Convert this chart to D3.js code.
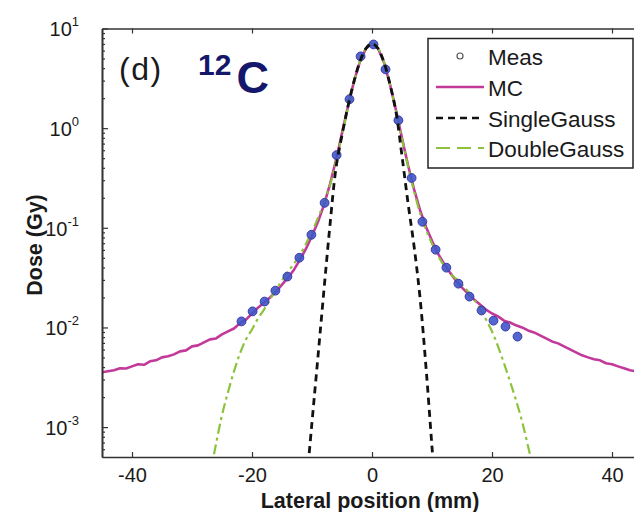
<!DOCTYPE html>
<html>
<head>
<meta charset="utf-8">
<script src="https://cdn.jsdelivr.net/npm/d3@7"></script>
<style>
  html, body { margin: 0; padding: 0; background: #ffffff; }
  svg { display: block; }
  text { font-family: "Liberation Sans", Arial, Helvetica, sans-serif; }
</style>
</head>
<body>
<svg id="chart" width="634" height="512"></svg>
<script>
// ---------------- data ----------------
const xTicks = [-40, -20, 0, 20, 40];
const yTickExps = [1, 0, -1, -2, -3];

// Monte Carlo profile, lateral positions -45..45 mm (1 mm step)
const mcPos = d3.range(-45, 46, 1);
const mcDose = [
  0.00355,0.00363,0.00372,0.00389,0.00387,0.00407,0.00427,0.00422,0.00457,0.00468,
  0.00501,0.00513,0.00537,0.00575,0.00589,0.00646,0.00661,0.00708,0.00759,0.00776,
  0.00851,0.00912,0.00977,0.0110,0.0120,0.0138,0.0158,0.0178,0.0200,0.0229,
  0.0269,0.0316,0.0380,0.0479,0.0617,0.0832,0.115,0.170,0.275,0.479,
  0.891,1.66,2.95,4.68,6.31,7.08,6.31,4.57,2.75,1.51,
  0.794,0.427,0.245,0.151,0.102,0.0741,0.0550,0.0437,0.0355,0.0295,
  0.0251,0.0219,0.0191,0.0170,0.0151,0.0138,0.0129,0.0117,0.0112,0.0105,
  0.0100,0.00933,0.00891,0.00832,0.00776,0.00724,0.00692,0.00646,0.00603,0.00562,
  0.00525,0.00501,0.00479,0.00468,0.00437,0.00427,0.00407,0.00389,0.00372,0.00363,
  0.00347
];

// Single Gaussian fit, -11..11 mm
const sgPos = d3.range(-11, 12, 1);
const sgDose = [0.000240,0.00112,0.00513,0.0240,0.107,0.398,0.851,1.66,2.95,4.68,6.31,7.08,
                6.31,4.57,2.75,1.45,0.525,0.178,0.0661,0.0200,0.00398,0.000631,0.0001];

// Double Gaussian fit, -27..27 mm
const dgPos = d3.range(-27, 28, 1);
const dgDose = [
  0.000331,0.000676,0.00132,0.00224,0.00363,0.00550,0.00759,0.00955,0.0123,0.0151,
  0.0191,0.0240,0.0295,0.0363,0.0437,0.0537,0.0692,0.0912,0.126,0.178,
  0.269,0.457,0.851,1.58,2.88,4.68,6.31,7.08,6.31,4.57,
  2.75,1.48,0.776,0.417,0.234,0.141,0.0955,0.0692,0.0525,0.0417,
  0.0347,0.0309,0.0269,0.0229,0.0191,0.0155,0.0120,0.00912,0.00646,0.00437,
  0.00288,0.00186,0.00115,0.000646,0.000355
];

// Measurements
const measPos = [-21.75,-19.9,-17.9,-16.1,-14.1,-12.1,-10.1,-7.9,-5.9,-3.75,-1.9,0.25,
                 2.25,4.4,6.6,8.4,10.6,12.4,14.4,16.25,18.25,20.25,22.25,24.25];
const measDose = [0.0115,0.0145,0.0182,0.0234,0.0324,0.0501,0.0851,0.178,0.537,1.95,5.25,6.92,
                  3.89,1.20,0.316,0.115,0.0603,0.0398,0.0275,0.0204,0.0148,0.0117,0.0102,0.0081];

const legendLabels = ["Meas", "MC", "SingleGauss", "DoubleGauss"];

// ---------------- layout ----------------
(function () {
const svg = d3.select("#chart");
const pL = 102, pR = 642, pT = 28.5, pB = 457;

const x = d3.scaleLinear().domain([-45, 45]).range([pL, pR]);
const y = d3.scaleLog().domain([Math.pow(10, -3.3), 10]).range([pB, pT]);

const colMC = "#c2399a", colSG = "#111111", colDG = "#8cc23c", colMeas = "#3f55c8";

svg.append("defs").append("clipPath").attr("id", "plotclip")
  .append("rect").attr("x", pL).attr("y", pT).attr("width", pR - pL).attr("height", pB - pT);

const plot = svg.append("g").attr("clip-path", "url(#plotclip)");

const line = (pos, dose, curve) => d3.line()
  .x((d, i) => x(pos[i])).y(d => y(d)).curve(curve)(dose);

// MC
plot.append("path").attr("d", line(mcPos, mcDose, d3.curveLinear))
  .attr("fill", "none").attr("stroke", colMC).attr("stroke-width", 2.6).attr("stroke-linejoin", "round");
// Double Gauss
plot.append("path").attr("d", line(dgPos, dgDose, d3.curveCatmullRom))
  .attr("fill", "none").attr("stroke", colDG).attr("stroke-width", 2.2)
  .attr("stroke-dasharray", "10,4,3,4");
// Measurements
plot.selectAll("circle.meas").data(measDose).enter().append("circle")
  .attr("class", "meas")
  .attr("cx", (d, i) => x(measPos[i])).attr("cy", d => y(d)).attr("r", 4.4)
  .attr("fill", colMeas).attr("fill-opacity", 0.9).attr("stroke", "#3a3aa8").attr("stroke-width", 1);
// Single Gauss
plot.append("path").attr("d", line(sgPos, sgDose, d3.curveCatmullRom))
  .attr("fill", "none").attr("stroke", colSG).attr("stroke-width", 2.8)
  .attr("stroke-dasharray", "7,5");

// ---------------- axes ----------------
const axisStyle = g => {
  g.select(".domain").attr("stroke", "#333").attr("stroke-width", 1.6);
  g.selectAll(".tick line").attr("stroke", "#333").attr("stroke-width", 1.2);
};

// bottom
const gx = svg.append("g").attr("transform", `translate(0,${pB})`)
  .call(d3.axisBottom(x).tickValues(xTicks).tickSizeInner(-5).tickSizeOuter(0)
        .tickPadding(11).tickFormat(d => String(d)));
axisStyle(gx);
gx.selectAll(".tick text").attr("font-size", 20).attr("fill", "#1a1a1a")
  .attr("font-family", "'Liberation Sans', Arial, sans-serif");

// top
const gt = svg.append("g").attr("transform", `translate(0,${pT})`)
  .call(d3.axisTop(x).tickValues(xTicks).tickSizeInner(-5).tickSizeOuter(0).tickFormat(() => ""));
axisStyle(gt);

// left minor ticks
const minorVals = [];
[-4, -3, -2, -1, 0].forEach(e => {
  for (let m = 2; m <= 9; m++) {
    const v = m * Math.pow(10, e);
    if (v >= Math.pow(10, -3.3) && v <= 10) minorVals.push(v);
  }
});
const gmin = svg.append("g").attr("transform", `translate(${pL},0)`)
  .call(d3.axisLeft(y).tickValues(minorVals).tickSizeInner(-3).tickSizeOuter(0).tickFormat(() => ""));
axisStyle(gmin);

// left major
const yTickVals = yTickExps.map(e => Math.pow(10, e));
const gy = svg.append("g").attr("transform", `translate(${pL},0)`)
  .call(d3.axisLeft(y).tickValues(yTickVals).tickSizeInner(-6).tickSizeOuter(0)
        .tickPadding(23).tickFormat(() => ""));
axisStyle(gy);
gy.selectAll(".tick").each(function(d, i) {
  const t = d3.select(this).select("text")
    .attr("font-size", 20).attr("fill", "#1a1a1a").attr("dy", "0.36em").attr("x", -23);
  t.text(null);
  t.append("tspan").text("10");
  t.append("tspan").attr("font-size", 13).attr("dy", "-0.75em").text(String(yTickExps[i]));
});

// ---------------- labels ----------------
svg.append("text").attr("x", 370).attr("y", 508).attr("text-anchor", "middle")
  .attr("font-size", 21.5).attr("font-weight", "bold").attr("fill", "#1a1a1a")
  .text("Lateral position (mm)");

svg.append("text").attr("transform", "translate(42,245) rotate(-90)").attr("text-anchor", "middle")
  .attr("font-size", 21.5).attr("font-weight", "bold").attr("fill", "#1a1a1a")
  .text("Dose (Gy)");

svg.append("text").attr("x", 119).attr("y", 80).attr("font-size", 32).attr("fill", "#1a1a1a")
  .attr("letter-spacing", 1.5).text("(d)");

const iso = svg.append("text").attr("x", 198).attr("y", 93).attr("fill", "#15186a").attr("font-weight", "bold");
iso.append("tspan").attr("font-size", 30).attr("dy", -18).text("12");
iso.append("tspan").attr("font-size", 45).attr("dy", 18).attr("dx", 5).text("C");

// ---------------- legend ----------------
const lg = svg.append("g");
lg.append("rect").attr("x", 428).attr("y", 38.5).attr("width", 205).attr("height", 129.5)
  .attr("fill", "#ffffff").attr("stroke", "#222").attr("stroke-width", 1.5);

const rowsY = [56, 87, 118, 148];
const lx0 = 436, lx1 = 484;
lg.append("circle").attr("cx", (lx0 + lx1) / 2).attr("cy", rowsY[0]).attr("r", 3)
  .attr("fill", "none").attr("stroke", "#555").attr("stroke-width", 1.2);
lg.append("line").attr("x1", lx0).attr("x2", lx1).attr("y1", rowsY[1]).attr("y2", rowsY[1])
  .attr("stroke", colMC).attr("stroke-width", 2.6);
lg.append("line").attr("x1", lx0).attr("x2", lx1).attr("y1", rowsY[2]).attr("y2", rowsY[2])
  .attr("stroke", colSG).attr("stroke-width", 2.6).attr("stroke-dasharray", "7,5");
lg.append("line").attr("x1", lx0).attr("x2", lx1).attr("y1", rowsY[3]).attr("y2", rowsY[3])
  .attr("stroke", colDG).attr("stroke-width", 2.2).attr("stroke-dasharray", "14,7");

lg.selectAll("text.lab").data(legendLabels).enter().append("text")
  .attr("class", "lab")
  .attr("x", 488).attr("y", (d, i) => rowsY[i] + 8.5)
  .attr("font-size", 22.5).attr("fill", "#1a1a1a")
  .text(d => d);
})();
</script>
</body>
</html>
